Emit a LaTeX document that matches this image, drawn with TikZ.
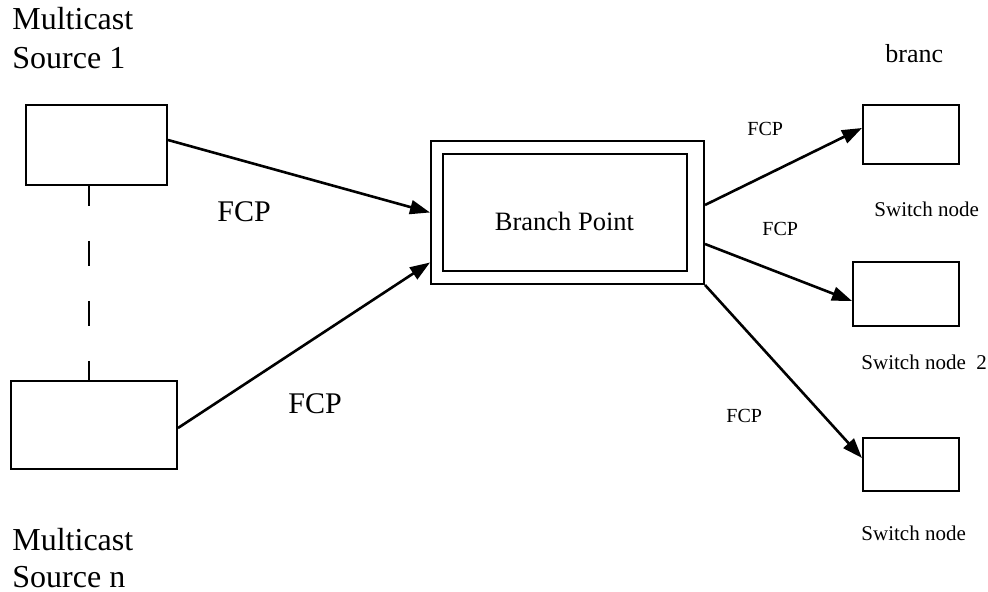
\documentclass[tikz,border=0pt]{standalone}
\usepackage{fontspec}
\setmainfont{Liberation Serif}
\usetikzlibrary{arrows.meta}
\tikzset{
  box/.style={draw, line width=1pt, inner sep=0pt, fill=none},
  conn/.style={line width=1.3pt, -{Triangle[length=10pt,width=7pt]}},
  lbl/.style={inner sep=0pt, anchor=base west},
  big/.style={lbl, font=\fontsize{15pt}{18pt}\selectfont},
  head/.style={lbl, font=\fontsize{16pt}{19pt}\selectfont},
  mid/.style={lbl, font=\fontsize{13pt}{15pt}\selectfont},
  small/.style={lbl, font=\fontsize{10.5pt}{12pt}\selectfont},
  tiny/.style={lbl, font=\fontsize{10pt}{12pt}\selectfont},
}
\begin{document}
\begin{tikzpicture}[x=0.5pt,y=-0.5pt]
\useasboundingbox (0,0) rectangle (988,592);
% boxes
\node[box, minimum width=70.5pt, minimum height=40pt] (src1) at (96.5,145) {};
\node[box, minimum width=83pt, minimum height=44pt] (srcn) at (94,425) {};
\node[box, minimum width=136.5pt, minimum height=71.5pt] (bp) at (567.5,212.5) {};
\node[box, minimum width=122pt, minimum height=58.5pt] (bpin) at (565,212.5) {};
\node[lbl, font=\fontsize{13.25pt}{16pt}\selectfont, anchor=base] (bptext) at (564.5,231) {Branch Point};
\node[box, minimum width=48pt, minimum height=29.5pt] (sw1) at (911,134.5) {};
\node[box, minimum width=53pt, minimum height=32pt] (sw2) at (906,294) {};
\node[box, minimum width=48pt, minimum height=26.5pt] (sw3) at (911,464.5) {};
% dashed link between sources
\draw[line width=1pt, dash pattern=on 12.5pt off 17.5pt, dash phase=2.5pt] ([xshift=-3.75pt]src1.south) -- ([xshift=-2.5pt]srcn.north);
% connectors
\draw[conn] ([yshift=2.5pt]src1.east) -- (bp.west);
\draw[conn] ([yshift=-1.5pt]srcn.east) -- ([yshift=-25pt]bp.west);
\draw[conn] ([yshift=3.75pt]bp.east) -- ([yshift=3.25pt]sw1.west);
\draw[conn] ([yshift=-15.75pt]bp.east) -- ([yshift=-3.5pt]sw2.west);
\draw[conn] (bp.south east) -- ([yshift=3.25pt]sw3.west);
% labels
\node[head] (m1a) at (12,30) {Multicast};
\node[head] (m1b) at (12,69) {Source 1};
\node[head] (mna) at (12,550) {Multicast};
\node[head] (mnb) at (12,587) {Source n};
\node[big] (fcp1) at (217,222) {FCP};
\node[big] (fcp2) at (288,413) {FCP};
\node[tiny] (fcp3) at (747,136) {FCP};
\node[tiny] (fcp4) at (762,236) {FCP};
\node[tiny] (fcp5) at (726,422) {FCP};
\node[mid] (branc) at (885,63) {branc};
\node[small] (swl1) at (874,217) {Switch node};
\node[small] (swl2) at (861,370) {Switch node\ \ 2};
\node[small] (swl3) at (861,540) {Switch node};
\end{tikzpicture}
\end{document}
